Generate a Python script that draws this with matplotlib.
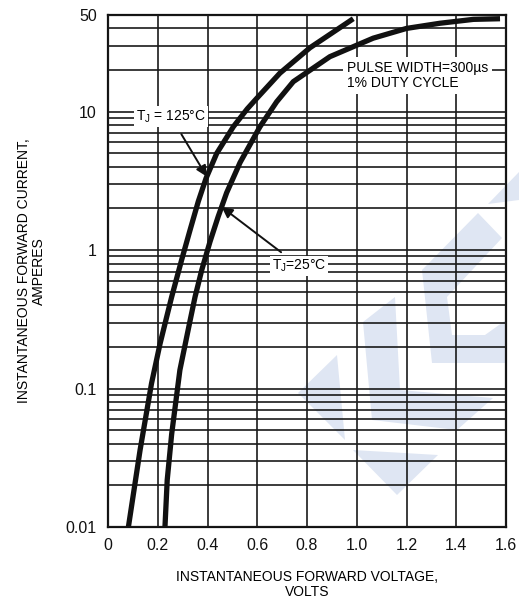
import numpy as np
import matplotlib.pyplot as plt
from matplotlib.patches import Polygon
from matplotlib.ticker import FixedLocator, NullFormatter

plt.rcParams['font.family'] = ['Liberation Sans', 'DejaVu Sans']
plt.rcParams['mathtext.fontset'] = 'custom'
plt.rcParams['mathtext.rm'] = 'Liberation Sans'

# curve data (volts, amperes)
v_125 = [0.082, 0.129, 0.175, 0.209, 0.236, 0.256, 0.296, 0.33, 0.363, 0.394, 0.437,
         0.504, 0.56, 0.598, 0.691, 0.812, 0.986]
i_125 = [0.01, 0.036, 0.109, 0.21, 0.33, 0.46, 0.85, 1.4, 2.25, 3.3, 5.0,
         7.8, 10.5, 12.5, 19, 29, 47]
v_25 = [0.229, 0.238, 0.256, 0.289, 0.33, 0.35, 0.377, 0.41, 0.443, 0.477, 0.531,
        0.611, 0.678, 0.745, 0.892, 1.066, 1.2, 1.335, 1.469, 1.576]
i_25 = [0.01, 0.0218, 0.047, 0.136, 0.31, 0.46, 0.72, 1.15, 1.75, 2.6, 4.3,
        7.8, 11.8, 16.5, 25, 34, 40, 43.6, 46.5, 47]

xticks = [0, 0.2, 0.4, 0.6, 0.8, 1.0, 1.2, 1.4, 1.6]
xlabels = ['0', '0.2', '0.4', '0.6', '0.8', '1.0', '1.2', '1.4', '1.6']
yticks = [0.01, 0.1, 1, 10, 50]
ylabels = ['0.01', '0.1', '1', '10', '50']

W, H = 519, 610
fig = plt.figure(figsize=(W / 100, H / 100), dpi=100)
ax = fig.add_axes([108 / W, 1 - 527 / H, (506 - 108) / W, (527 - 15) / H])

# watermark (figure pixel coords)
wm = [
    [(298, 393), (337, 355), (345, 440)],
    [(353, 450), (438, 455), (397, 495)],
    [(363, 322), (395, 297), (400, 390), (493, 398), (457, 430), (372, 420)],
    [(422, 270), (478, 213), (502, 238), (447, 297), (452, 335), (485, 335),
     (506, 320), (506, 363), (432, 363)],
    [(488, 204), (519, 172), (519, 200)],
]
for pts in wm:
    p = Polygon([(x / W, 1 - y / H) for x, y in pts], closed=True,
                transform=fig.transFigure, facecolor='#dfe6f3', edgecolor='none',
                zorder=1, clip_on=False)
    ax.add_patch(p)

ax.set_yscale('log')
ax.set_xlim(0, 1.6)
ax.set_ylim(0.01, 50)

ax.plot(v_125, i_125, color='#111111', lw=3.8, solid_capstyle='butt', solid_joinstyle='round', zorder=3)
ax.plot(v_25, i_25, color='#111111', lw=3.8, solid_capstyle='butt', solid_joinstyle='round', zorder=3)

ax.xaxis.set_major_locator(FixedLocator(xticks))
ax.set_xticklabels(xlabels)
ax.yaxis.set_major_locator(FixedLocator(yticks))
ax.set_yticklabels(ylabels)
ax.yaxis.set_minor_formatter(NullFormatter())
ax.tick_params(which='both', length=0, labelsize=11.5, colors='#111111')
ax.tick_params(axis='x', pad=8)
ax.tick_params(axis='y', pad=8)

ax.set_axisbelow(False)
ax.grid(True, which='both', axis='y', color='#1a1a1a', lw=1.2, zorder=2)
ax.grid(True, which='major', axis='x', color='#1a1a1a', lw=1.2, zorder=2)
for s in ax.spines.values():
    s.set_linewidth(1.6)
    s.set_color('#111111')
    s.set_zorder(2)

box = dict(facecolor='white', edgecolor='none', pad=1.5)
ax.annotate('T$_{\\rm J}$ = 125°C', xy=(0.397, 3.4), xytext=(0.253, 9.2),
            ha='center', va='center', fontsize=10, bbox=box, zorder=5,
            arrowprops=dict(arrowstyle='-|>', color='#111111', lw=1.4,
                            mutation_scale=16, shrinkA=6, shrinkB=0))
ax.annotate('T$_{\\rm J}$=25°C', xy=(0.457, 2.05), xytext=(0.768, 0.77),
            ha='center', va='center', fontsize=10, bbox=box, zorder=5,
            arrowprops=dict(arrowstyle='-|>', color='#111111', lw=1.4,
                            mutation_scale=16, shrinkA=4, shrinkB=0))
ax.text(0.96, 18.2, 'PULSE WIDTH=300µs\n1% DUTY CYCLE', ha='left', va='center',
        fontsize=10, linespacing=1.05, bbox=dict(facecolor='white', edgecolor='none', pad=3), zorder=5)

ax.set_xlabel('INSTANTANEOUS FORWARD VOLTAGE,\nVOLTS', fontsize=10, labelpad=12, linespacing=1.1)
ax.set_ylabel('INSTANTANEOUS FORWARD CURRENT,\nAMPERES', fontsize=10, labelpad=14, linespacing=1.1)

fig.savefig('out.png', dpi=100)
